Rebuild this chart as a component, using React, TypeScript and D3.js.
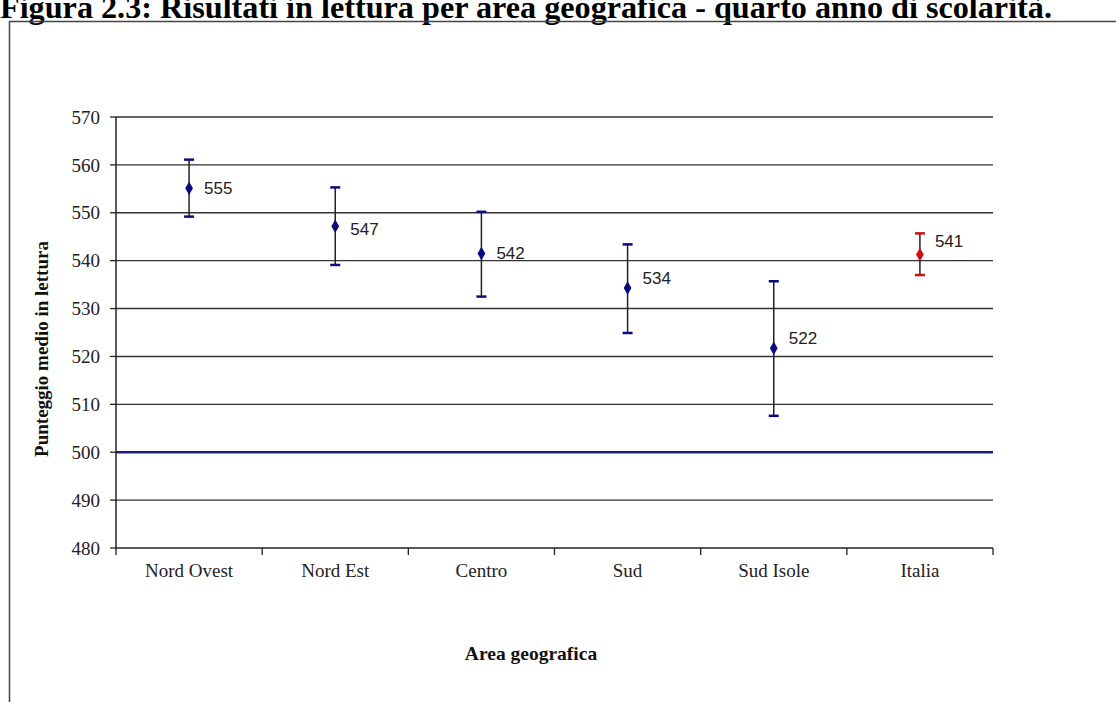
import React from "react";
import * as d3 from "d3";

const categories = ["Nord Ovest", "Nord Est", "Centro", "Sud", "Sud Isole", "Italia"];
const means = [555.1, 547.2, 541.5, 534.3, 521.7, 541.3];
const labels = ["555", "547", "542", "534", "522", "541"];
const lower = [549.2, 539.1, 532.5, 524.9, 507.6, 537.0];
const upper = [561.1, 555.3, 550.2, 543.4, 535.7, 545.7];
const yTicks = [480, 490, 500, 510, 520, 530, 540, 550, 560, 570];
const referenceLine = 500;
const labelDy = [0, 3, 0, -10, -10, -13];

const W = 1116;
const H = 702;
const left = 116;
const right = 993;
const top = 117;
const bottom = 548;

export default function App() {
  const x = d3.scaleBand<string>().domain(categories).range([left, right]).padding(0);
  const y = d3.scaleLinear().domain([480, 570]).range([bottom, top]);
  const serif = "'Liberation Serif', 'Times New Roman', serif";
  const sans = "'Liberation Sans', 'DejaVu Sans', sans-serif";
  const navy = "#0a0a80";
  const red = "#d01010";
  const bounds = [left, ...categories.map((c) => (x(c) as number) + x.bandwidth())];
  const diamond = d3.symbol().type(d3.symbolDiamond).size(52)();

  return (
    <svg width={W} height={H} style={{ position: "absolute", left: 0, top: 0, background: "#fff" }}>
      <text x={0} y={17.5} fontFamily={serif} fontWeight="bold" fontSize={32.2} fill="#000">
        Figura 2.3: Risultati in lettura per area geografica - quarto anno di scolarità.
      </text>
      <line x1={9} y1={21.5} x2={W} y2={21.5} stroke="#444" strokeWidth={1.5} />
      <line x1={9.5} y1={21} x2={9.5} y2={H} stroke="#444" strokeWidth={1.5} />

      {/* gridlines */}
      {yTicks.map((t) =>
        t === 480 || t === referenceLine ? null : (
          <line key={t} x1={left} x2={right} y1={y(t)} y2={y(t)} stroke="#333" strokeWidth={1.4} />
        )
      )}
      {/* y ticks */}
      {yTicks.map((t) => (
        <g key={"yt" + t}>
          <line x1={left - 6} x2={left} y1={y(t)} y2={y(t)} stroke="#222" strokeWidth={1.3} />
          <text x={left - 16} y={y(t)} dy="0.35em" textAnchor="end" fontFamily={serif} fontSize={19} fill="#222">
            {t}
          </text>
        </g>
      ))}
      {/* reference line */}
      <line x1={left} x2={right} y1={y(referenceLine)} y2={y(referenceLine)} stroke="#1c1c8c" strokeWidth={2.5} />
      {/* axes */}
      <line x1={left} x2={left} y1={top} y2={bottom} stroke="#222" strokeWidth={1.5} />
      <line x1={left} x2={right} y1={bottom} y2={bottom} stroke="#222" strokeWidth={1.5} />
      {bounds.map((b, i) => (
        <line key={"xt" + i} x1={b} x2={b} y1={bottom} y2={bottom + 7} stroke="#222" strokeWidth={1.3} />
      ))}
      {categories.map((c) => (
        <text
          key={"xl" + c}
          x={(x(c) as number) + x.bandwidth() / 2}
          y={577}
          textAnchor="middle"
          fontFamily={serif}
          fontSize={19}
          fill="#222"
        >
          {c}
        </text>
      ))}

      {/* error bars & points */}
      {categories.map((c, i) => {
        const cx = (x(c) as number) + x.bandwidth() / 2;
        const col = c === "Italia" ? red : navy;
        return (
          <g key={"pt" + c}>
            <line x1={cx} x2={cx} y1={y(upper[i])} y2={y(lower[i])} stroke="#222" strokeWidth={1.5} />
            <line x1={cx - 5} x2={cx + 5} y1={y(upper[i])} y2={y(upper[i])} stroke={col} strokeWidth={2.5} />
            <line x1={cx - 5} x2={cx + 5} y1={y(lower[i])} y2={y(lower[i])} stroke={col} strokeWidth={2.5} />
            <path d={diamond as string} transform={`translate(${cx},${y(means[i])})`} fill={col} />
            <text
              x={cx + 15}
              y={y(means[i]) + labelDy[i]}
              dy="0.35em"
              fontFamily={sans}
              fontSize={17}
              fill="#222"
            >
              {labels[i]}
            </text>
          </g>
        );
      })}

      <text
        transform={`translate(48,349) rotate(-90)`}
        textAnchor="middle"
        fontFamily={serif}
        fontWeight="bold"
        fontSize={19}
        fill="#111"
      >
        Punteggio medio in lettura
      </text>
      <text x={531} y={660} textAnchor="middle" fontFamily={serif} fontWeight="bold" fontSize={19.5} fill="#111">
        Area geografica
      </text>
    </svg>
  );
}
